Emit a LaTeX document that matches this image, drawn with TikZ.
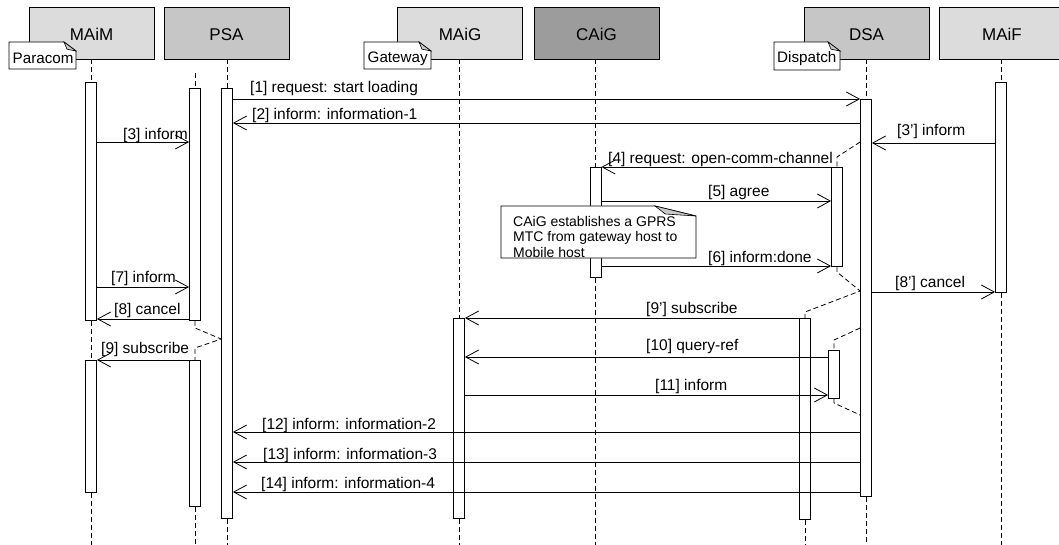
\documentclass[tikz,border=0pt]{standalone}
\usepackage{fontspec}
\setmainfont{Liberation Sans}
\usetikzlibrary{arrows.meta}

\definecolor{hdrlight}{HTML}{DCDCDC}
\definecolor{hdrmid}{HTML}{C6C6C6}
\definecolor{hdrdark}{HTML}{9C9C9C}
\definecolor{foldgray}{HTML}{C8C8C8}

% activation bar: name, x, top y, bottom y
\newcommand\lifebar[4]{\node[actbar, minimum height={(#4-#3)*1pt}] (#1) at (#2,#3) {};}
% note outline with folded corner: x1, y1, x2, y2, fold width, fold height
\newcommand\foldnote[6]{%
  \draw[notebox] (#1,#2) -- (#3-#5,#2) -- (#3,#2+#6) -- (#3,#4) -- (#1,#4) -- cycle;
  \filldraw[fill=foldgray, line width=0.6pt] (#3-#5,#2) -- (#3,#2+#6) -- (#3-0.75*#5,#2+0.8*#6) -- cycle;}

\begin{document}
\begin{tikzpicture}[x=1pt,y=-1pt,
  hdr/.style={draw=black, line width=0.8pt, minimum width=125pt, minimum height=52pt,
    inner sep=0pt, font=\fontsize{17}{20}\selectfont},
  hdrtxt/.style={inner sep=0pt, font=\fontsize{17}{20}\selectfont},
  actbar/.style={draw=black, fill=white, line width=0.8pt, minimum width=11pt,
    inner sep=0pt, anchor=north},
  life/.style={line width=0.8pt, dash pattern=on 5pt off 3pt},
  msg/.style={line width=0.8pt, -{Straight Barb[length=13pt,width=14pt,line width=0.8pt]}},
  lbl/.style={anchor=base west, inner sep=0pt, font=\fontsize{15.5}{18}\selectfont},
  notebox/.style={draw=black, fill=white, line width=0.8pt},
  notetxt/.style={anchor=base west, inner sep=0pt, font=\fontsize{15.2}{18}\selectfont},
  cnotetxt/.style={anchor=base west, inner sep=0pt, font=\fontsize{14}{16}\selectfont},
]
\useasboundingbox (0,0) rectangle (1059,545);
\clip (0,0) rectangle (1059,545);

% ---- lifeline heads ----
\node[hdr, fill=hdrlight] (hMAiM) at (91.5,33)  {};
\node[hdr, fill=hdrmid]   (hPSA)  at (226.5,33) {};
\node[hdr, fill=hdrlight] (hMAiG) at (460,33)   {};
\node[hdr, fill=hdrdark]  (hCAiG) at (596.5,33) {};
\node[hdr, fill=hdrmid]   (hDSA)  at (866.5,33) {};
\node[hdr, fill=hdrlight] (hMAiF) at (1002,33)  {};
\node[hdrtxt, anchor=base] (tMAiM) at (91.5,41)  {MAiM};
\node[hdrtxt, anchor=base] (tPSA)  at (226.5,41) {PSA};
\node[hdrtxt, anchor=base] (tMAiG) at (460,41)   {MAiG};
\node[hdrtxt, anchor=base] (tCAiG) at (596.5,41) {CAiG};
\node[hdrtxt, anchor=base] (tDSA)  at (866.5,41) {DSA};
\node[hdrtxt, anchor=base] (tMAiF) at (1002,41)  {MAiF};

% ---- activation bars ----
\lifebar{maimA}{91}{82}{320}
\lifebar{maimB}{91}{360}{492}
\lifebar{psaxA}{195}{88}{320}
\lifebar{psaxB}{195}{360}{506}
\lifebar{psaM}{227}{88}{518}
\lifebar{maigB}{459}{318}{518}
\lifebar{caig}{595.5}{167}{277}
\lifebar{dsaM}{866}{99}{496}
\lifebar{dsa1}{837}{167}{266}
\lifebar{dsa2}{805}{318}{519}
\lifebar{dsa3}{834}{350}{398}
\lifebar{maif}{1001}{82}{292}

% ---- dashed lifelines ----
\coordinate (psaxTop) at (195,73);
\draw[life] (maimA.north |- hMAiM.south) -- (maimA.north);
\draw[life] (maimA.south) -- (maimB.north);
\draw[life] (maimB.south) -- (maimB.south |- 0,545);
\draw[life] (psaM.north |- hPSA.south) -- (psaM.north);
\draw[life] (psaM.south) -- (psaM.south |- 0,545);
\draw[life] (psaxTop) -- (psaxA.north);
\draw[life] (psaxA.south) -- (195,328) -- (psaM.west |- 0,339) -- (195,348) -- (psaxB.north);
\draw[life] (psaxB.south) -- (psaxB.south |- 0,545);
\draw[life] (maigB.north |- hMAiG.south) -- (maigB.north);
\draw[life] (maigB.south) -- (maigB.south |- 0,545);
\draw[life] (caig.north |- hCAiG.south) -- (caig.north);
\draw[life] (caig.south) -- (caig.south |- 0,545);
\draw[life] (dsaM.north |- hDSA.south) -- (dsaM.north);
\draw[life] (dsaM.south) -- (dsaM.south |- 0,545);
\draw[life] (dsaM.west |- 0,142) -- (837,157) -- (dsa1.north);
\draw[life] (dsa1.south) -- (837,272) -- (dsaM.west |- 0,291) -- (805,312) -- (dsa2.north);
\draw[life] (dsa2.south) -- (dsa2.south |- 0,545);
\draw[life] (dsaM.west |- 0,328) -- (834,340) -- (dsa3.north);
\draw[life] (dsa3.south) -- (834,403) -- (dsaM.west |- 0,415);
\draw[life] (maif.north |- hMAiF.south) -- (maif.north);
\draw[life] (maif.south) -- (maif.south |- 0,545);

% ---- messages ----
\draw[msg] (psaM.east |- 0,99)   -- (dsaM.west |- 0,99);
\draw[msg] (dsaM.west |- 0,123)  -- (psaM.east |- 0,123);
\draw[msg] (maimA.east |- 0,142) -- (psaxA.west |- 0,142);
\draw[msg] (maif.west |- 0,143)  -- (dsaM.east |- 0,143);
\draw[msg] (dsa1.west |- 0,167)  -- (caig.east |- 0,167);
\draw[msg] (caig.east |- 0,201)  -- (dsa1.west |- 0,201);
\draw[msg] (caig.east |- 0,266)  -- (dsa1.west |- 0,266);
\draw[msg] (maimA.east |- 0,287) -- (psaxA.west |- 0,287);
\draw[msg] (dsaM.east |- 0,292)  -- (maif.west |- 0,292);
\draw[msg] (psaxA.west |- 0,319) -- (maimA.east |- 0,319);
\draw[msg] (dsa2.west |- 0,318)  -- (maigB.east |- 0,318);
\draw[msg] (dsa3.west |- 0,357)  -- (maigB.east |- 0,357);
\draw[msg] (psaxB.west |- 0,360) -- (maimB.east |- 0,360);
\draw[msg] (maigB.east |- 0,395) -- (dsa3.west |- 0,395);
\draw[msg] (dsaM.west |- 0,432)  -- (psaM.east |- 0,432);
\draw[msg] (dsaM.west |- 0,462)  -- (psaM.east |- 0,462);
\draw[msg] (dsaM.west |- 0,492)  -- (psaM.east |- 0,492);

% ---- notes ----
\foldnote{9}{42}{76}{69}{12}{9}
\node[notetxt] (nParacom) at (12.5,63.5) {Paracom};
\foldnote{364}{42}{431}{69}{12}{9}
\node[notetxt] (nGateway) at (367.5,62.5) {Gateway};
\foldnote{774}{42}{840}{70}{12}{9}
\node[notetxt] (nDispatch) at (777,63) {Dispatch};
\foldnote{501}{206}{696}{258}{41}{10}
\node[cnotetxt] (nCaig1) at (513,227) {CAiG establishes a GPRS};
\node[cnotetxt] (nCaig2) at (513,242) {MTC from gateway host to};
\node[cnotetxt] (nCaig3) at (513,257) {Mobile host};

% ---- message labels ----
\node[lbl] (l1)  at (250,93)  {[1] request: start loading};
\node[lbl] (l2)  at (252,120) {[2] inform: information-1};
\node[lbl] (l3)  at (123,140) {[3] inform};
\node[lbl] (l3p) at (897,136) {[3’] inform};
\node[lbl] (l4)  at (608,164) {[4] request: open-comm-channel};
\node[lbl] (l5)  at (708,197) {[5] agree};
\node[lbl] (l6)  at (708,262) {[6] inform:done};
\node[lbl] (l7)  at (111,282) {[7] inform};
\node[lbl] (l8)  at (114,314) {[8] cancel};
\node[lbl] (l8p) at (895,287) {[8’] cancel};
\node[lbl] (l9)  at (101,353) {[9] subscribe};
\node[lbl] (l9p) at (646,313) {[9’] subscribe};
\node[lbl] (l10) at (646,350) {[10] query-ref};
\node[lbl] (l11) at (655,390) {[11] inform};
\node[lbl] (l12) at (262,429) {[12] inform: information-2};
\node[lbl] (l13) at (263,459) {[13] inform: information-3};
\node[lbl] (l14) at (261,488) {[14] inform: information-4};
\end{tikzpicture}
\end{document}
